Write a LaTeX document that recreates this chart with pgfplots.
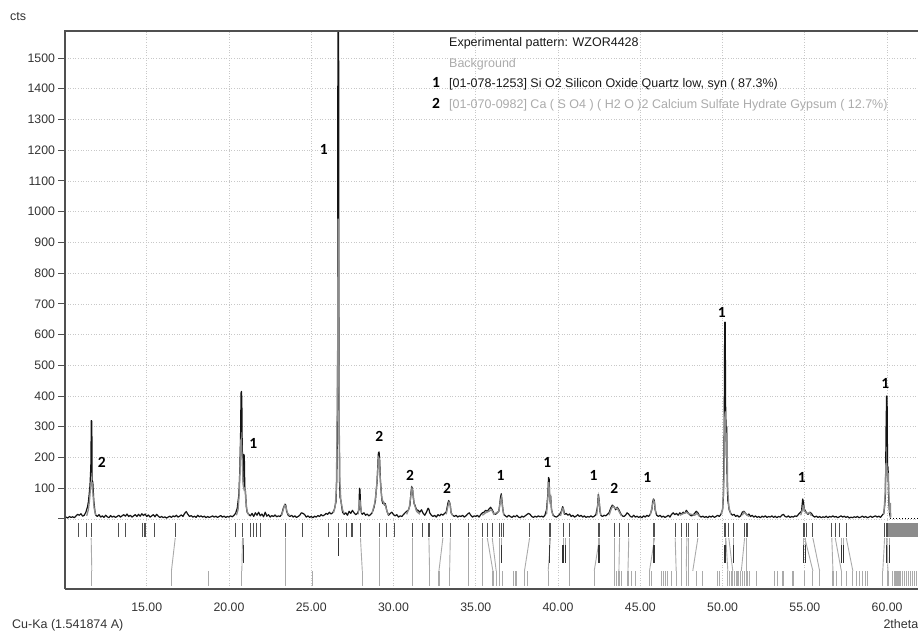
\documentclass[border=0pt]{standalone}
\usepackage{pgfplots}
\pgfplotsset{compat=1.18}
\usepackage{pgfplotstable}
\usepackage{fontspec}
\setmainfont{Liberation Sans}
\newfontfamily\calfont{Carlito}
\definecolor{framec}{HTML}{505050}
\definecolor{gridc}{HTML}{C8C8C8}
\definecolor{prof}{HTML}{8C8C8C}
\definecolor{lgrey}{HTML}{ABABAB}
\definecolor{stk}{HTML}{AAAAAA}
\definecolor{stkd}{HTML}{505050}
\definecolor{tlab}{HTML}{333333}

% connecting lines (row 1 -> row 3): x y u v
\pgfplotstableread{
x y u v
11.62 -62 0.04 -107
16.73 -62 -0.23 -107
20.82 -62 -0.04 -107
23.43 -62 0 -107
27.99 -62 0.11 -107
29.15 -62 0 -107
31.17 -62 0 -107
32.15 -62 0.04 -107
33.00 -62 -0.24 -107
33.45 -62 -0.04 -107
34.58 -62 0 -107
35.39 -62 0 -107
35.70 -62 0.34 -107
36.00 -62 0.24 -107
36.44 -62 0 -107
38.27 -62 -0.31 -107
39.54 -62 -0.14 -107
40.70 -62 0 -107
42.52 -62 -0.32 -107
43.43 -62 0 -107
43.74 -62 -0.04 -107
44.30 -62 -0.05 -107
45.87 -62 -0.31 -107
47.12 -62 0.06 -107
47.49 -62 0 -107
47.83 -62 -0.04 -107
47.95 -62 0 -107
48.50 -62 -0.31 -107
50.20 -62 0.12 -107
50.38 -62 0.24 -107
51.34 -62 -0.20 -107
51.48 -62 0 -107
55.00 -62 0.49 -107
55.49 -62 0.41 -107
56.64 -62 0.07 -107
56.85 -62 0.37 -107
57.52 -62 0.40 -107
59.85 -62 -0.11 -107
60.00 -62 0.05 -107
}\connect

\begin{document}
\begin{tikzpicture}
\path[use as bounding box] (-65pt,-43pt) rectangle (853pt,589pt);
\begin{axis}[name=ax, at={(0pt,0pt)}, anchor=south west,
  scale only axis, width=853pt, height=558pt,
  xmin=10.03, xmax=61.88, ymin=-228, ymax=1588,
  axis line style={draw=none},
  xtick={15,20,25,30,35,40,45,50,55,60},
  xticklabels={15.00,20.00,25.00,30.00,35.00,40.00,45.00,50.00,55.00,60.00},
  ytick={0,100,200,300,400,500,600,700,800,900,1000,1100,1200,1300,1400,1500},
  yticklabels={{},100,200,300,400,500,600,700,800,900,1000,1100,1200,1300,1400,1500},
  grid=major,
  major grid style={gridc, dash pattern=on 1pt off 1.6pt, line width=0.7pt},
  tick align=outside, major tick length=6.5pt,
  tick style={framec, line width=1pt},
  every major x tick/.append style={draw=none},
  ticklabel style={font=\fontsize{12.3}{14}\selectfont, text=tlab},
  xticklabel style={yshift=-3.5pt},
]
% experimental pattern
\addplot[black!92, line width=1.2pt, line join=round] coordinates {
(10.0,4) (10.1,6) (10.2,3) (10.3,8) (10.4,5) (10.5,7) (10.6,4) (10.7,10) (10.8,15) (10.9,12)
(11.0,17) (11.1,9) (11.2,12) (11.3,22) (11.4,40) (11.45,55) (11.5,80) (11.55,110) (11.6,170)
(11.63,320) (11.66,318) (11.68,125) (11.72,120) (11.78,60) (11.85,25) (11.9,12) (12.0,8)
(12.1,14) (12.2,6) (12.3,10) (12.4,5) (12.5,12) (12.6,7) (12.7,4) (12.8,11) (12.9,6) (13.0,9)
(13.1,5) (13.2,8) (13.3,12) (13.4,6) (13.5,10) (13.6,14) (13.7,9) (13.8,16) (13.9,8) (14.0,12)
(14.1,6) (14.2,10) (14.3,14) (14.4,8) (14.5,15) (14.6,9) (14.7,17) (14.8,11) (14.9,16) (15.0,8)
(15.1,13) (15.2,6) (15.3,10) (15.4,14) (15.5,7) (15.6,15) (15.7,9) (15.8,5) (15.9,8) (16.0,4)
(16.1,7) (16.2,3) (16.3,6) (16.4,9) (16.5,5) (16.6,10) (16.7,7) (16.8,12) (16.9,6) (17.0,9)
(17.1,13) (17.2,8) (17.3,18) (17.4,24) (17.5,15) (17.6,8) (17.7,11) (17.8,6) (17.9,9) (18.0,5)
(18.1,12) (18.2,7) (18.3,10) (18.4,6) (18.5,9) (18.6,4) (18.7,8) (18.8,5) (18.9,7) (19.0,10)
(19.1,6) (19.2,9) (19.3,5) (19.4,8) (19.5,11) (19.6,6) (19.7,9) (19.8,5) (19.9,8) (20.0,6)
(20.1,10) (20.2,7) (20.3,12) (20.4,18) (20.5,35) (20.6,80) (20.65,150) (20.7,260) (20.73,410)
(20.76,415) (20.78,380) (20.8,250) (20.83,180) (20.86,120) (20.9,210) (20.93,205) (20.96,100)
(21.0,90) (21.05,40) (21.1,22) (21.2,15) (21.3,10) (21.4,18) (21.5,8) (21.6,20) (21.7,12)
(21.8,22) (21.9,10) (22.0,16) (22.1,7) (22.2,22) (22.3,9) (22.4,14) (22.5,6) (22.6,11) (22.7,8)
(22.8,13) (22.9,7) (23.0,10) (23.1,8) (23.2,15) (23.3,35) (23.4,48) (23.45,45) (23.5,25)
(23.6,12) (23.7,8) (23.8,12) (23.9,6) (24.0,10) (24.1,5) (24.2,8) (24.3,12) (24.4,20) (24.5,18)
(24.6,14) (24.7,6) (24.8,10) (24.9,5) (25.0,8) (25.1,4) (25.2,9) (25.3,6) (25.4,11) (25.5,8)
(25.6,14) (25.7,10) (25.8,13) (25.9,18) (26.0,15) (26.1,22) (26.2,16) (26.3,20) (26.4,30)
(26.5,55) (26.55,130) (26.58,260) (26.6,500) (26.62,1700) (26.66,1700) (26.68,600) (26.7,300)
(26.72,120) (26.75,70) (26.8,60) (26.85,40) (26.9,22) (27.0,15) (27.1,20) (27.2,12) (27.3,25)
(27.4,18) (27.5,28) (27.6,20) (27.7,14) (27.8,18) (27.9,30) (27.93,100) (27.96,95) (28.0,40)
(28.05,20) (28.1,15) (28.2,20) (28.3,12) (28.4,16) (28.5,10) (28.6,14) (28.7,20) (28.8,35)
(28.9,60) (28.95,95) (29.0,120) (29.05,180) (29.08,215) (29.12,218) (29.15,200) (29.2,130)
(29.25,90) (29.3,60) (29.35,50) (29.4,55) (29.45,45) (29.5,50) (29.55,38) (29.6,25) (29.7,12)
(29.8,18) (29.9,22) (30.0,14) (30.1,10) (30.2,14) (30.3,6) (30.4,10) (30.5,8) (30.6,14)
(30.7,20) (30.8,25) (30.9,28) (31.0,45) (31.05,80) (31.1,105) (31.15,100) (31.2,70) (31.25,50)
(31.3,45) (31.4,30) (31.5,28) (31.6,22) (31.7,30) (31.8,18) (31.9,12) (32.0,22) (32.1,35)
(32.15,32) (32.2,20) (32.3,12) (32.4,8) (32.5,12) (32.6,6) (32.7,14) (32.8,10) (32.9,16)
(33.0,12) (33.1,18) (33.2,22) (33.3,50) (33.35,60) (33.4,55) (33.45,45) (33.5,20) (33.6,12)
(33.7,8) (33.8,12) (33.9,6) (34.0,10) (34.1,8) (34.2,12) (34.3,6) (34.4,10) (34.5,16) (34.6,20)
(34.7,12) (34.8,6) (34.9,10) (35.0,8) (35.1,12) (35.2,6) (35.3,14) (35.4,20) (35.5,22) (35.6,28)
(35.7,25) (35.8,32) (35.9,38) (36.0,30) (36.1,18) (36.2,15) (36.3,20) (36.4,25) (36.45,45)
(36.5,70) (36.55,82) (36.6,55) (36.65,30) (36.7,15) (36.8,10) (36.9,6) (37.0,12) (37.1,8)
(37.2,5) (37.3,10) (37.4,7) (37.5,12) (37.6,6) (37.7,4) (37.8,9) (37.9,6) (38.0,10) (38.1,14)
(38.2,18) (38.3,15) (38.4,8) (38.5,5) (38.6,9) (38.7,6) (38.8,10) (38.9,7) (39.0,9) (39.1,6)
(39.2,12) (39.3,30) (39.38,80) (39.42,135) (39.46,130) (39.5,60) (39.55,75) (39.6,30) (39.7,12)
(39.8,8) (39.9,6) (40.0,10) (40.1,15) (40.2,25) (40.28,40) (40.32,35) (40.4,15) (40.5,18)
(40.6,12) (40.7,16) (40.8,8) (40.9,12) (41.0,6) (41.1,9) (41.2,14) (41.3,8) (41.4,12) (41.5,6)
(41.6,10) (41.7,5) (41.8,8) (41.9,6) (42.0,10) (42.1,6) (42.2,9) (42.3,14) (42.4,40) (42.45,80)
(42.5,60) (42.55,25) (42.6,12) (42.7,8) (42.8,12) (42.9,10) (43.0,15) (43.1,20) (43.2,35)
(43.3,45) (43.4,40) (43.5,30) (43.6,38) (43.7,30) (43.8,18) (43.9,10) (44.0,8) (44.1,12)
(44.2,20) (44.3,15) (44.4,8) (44.5,6) (44.6,12) (44.7,6) (44.8,9) (44.9,5) (45.0,8) (45.1,4)
(45.2,10) (45.3,6) (45.4,12) (45.5,8) (45.6,15) (45.7,30) (45.75,55) (45.8,65) (45.85,60)
(45.9,30) (46.0,12) (46.1,8) (46.2,12) (46.3,6) (46.4,9) (46.5,5) (46.6,8) (46.7,12) (46.8,6)
(46.9,15) (47.0,20) (47.1,14) (47.2,18) (47.3,12) (47.4,20) (47.5,15) (47.6,22) (47.7,18)
(47.8,28) (47.9,20) (48.0,14) (48.1,10) (48.2,12) (48.3,18) (48.4,25) (48.5,20) (48.6,10)
(48.7,6) (48.8,9) (48.9,5) (49.0,8) (49.1,4) (49.2,9) (49.3,6) (49.4,10) (49.5,5) (49.6,8)
(49.7,12) (49.8,8) (49.9,15) (50.0,30) (50.05,70) (50.1,300) (50.13,640) (50.16,640) (50.19,340)
(50.22,300) (50.25,300) (50.28,120) (50.32,60) (50.35,50) (50.4,30) (50.5,18) (50.6,12)
(50.7,15) (50.8,8) (50.9,12) (51.0,6) (51.1,10) (51.2,22) (51.3,25) (51.4,18) (51.5,12)
(51.6,16) (51.7,8) (51.8,12) (51.9,6) (52.0,10) (52.1,5) (52.2,8) (52.3,4) (52.4,9) (52.5,6)
(52.6,10) (52.7,5) (52.8,8) (52.9,6) (53.0,10) (53.1,5) (53.2,9) (53.3,4) (53.4,8) (53.5,6)
(53.6,12) (53.7,15) (53.8,8) (53.9,6) (54.0,10) (54.1,5) (54.2,8) (54.3,6) (54.4,10) (54.5,8)
(54.6,14) (54.7,20) (54.8,25) (54.87,65) (54.92,55) (54.97,25) (55.0,30) (55.1,20) (55.2,15)
(55.3,22) (55.4,18) (55.5,10) (55.6,6) (55.7,9) (55.8,5) (55.9,8) (56.0,4) (56.1,7) (56.2,5)
(56.3,9) (56.4,4) (56.5,8) (56.6,6) (56.7,10) (56.8,6) (56.9,8) (57.0,4) (57.1,7) (57.2,10)
(57.3,6) (57.4,9) (57.5,5) (57.6,8) (57.7,3) (57.8,6) (57.9,4) (58.0,7) (58.1,5) (58.2,8)
(58.3,4) (58.4,6) (58.5,9) (58.6,5) (58.7,8) (58.8,4) (58.9,6) (59.0,9) (59.1,5) (59.2,8)
(59.3,10) (59.4,6) (59.5,9) (59.6,5) (59.7,12) (59.8,18) (59.85,40) (59.9,80) (59.94,300)
(59.97,400) (60.0,400) (60.03,160) (60.06,170) (60.1,60) (60.15,20) (60.2,5)
};
\addplot[black, line width=1pt, dotted] coordinates {(60.2,3) (61.9,3)};
% calculated phase profiles (grey)
\addplot[prof, line width=1.3pt, unbounded coords=jump] coordinates {
(11.35,10) (11.45,30) (11.52,60) (11.58,100) (11.63,120) (11.68,118) (11.73,80) (11.8,35) (11.9,12) (11.9,nan)
(20.45,12) (20.55,30) (20.62,80) (20.67,160) (20.71,255) (20.75,260) (20.8,190) (20.86,110) (20.92,95) (20.97,100) (21.02,60) (21.1,25) (21.2,12) (21.2,nan)
(23.2,12) (23.3,30) (23.38,45) (23.45,42) (23.55,20) (23.7,10) (23.7,nan)
(26.35,20) (26.45,40) (26.52,90) (26.56,260) (26.6,500) (26.63,975) (26.67,975) (26.7,300) (26.74,120) (26.8,60) (26.9,30) (27.0,18) (27.0,nan)
(27.85,15) (27.92,60) (27.96,60) (28.05,20) (28.05,nan)
(28.7,20) (28.85,50) (28.95,90) (29.03,150) (29.09,200) (29.14,195) (29.2,120) (29.28,70) (29.4,50) (29.5,45) (29.6,25) (29.7,12) (29.7,nan)
(30.8,15) (30.95,35) (31.05,75) (31.12,100) (31.18,90) (31.25,50) (31.4,25) (31.6,15) (31.6,nan)
(33.2,15) (33.3,40) (33.37,55) (33.43,50) (33.5,20) (33.6,10) (33.6,nan)
(35.4,12) (35.6,20) (35.8,25) (35.95,30) (36.1,15) (36.4,25) (36.5,60) (36.56,70) (36.62,40) (36.7,12) (36.7,nan)
(39.3,15) (39.38,70) (39.44,120) (39.5,60) (39.55,70) (39.62,25) (39.7,10) (39.7,nan)
(40.15,10) (40.25,30) (40.3,35) (40.38,15) (40.38,nan)
(42.35,12) (42.42,50) (42.47,70) (42.53,40) (42.6,12) (42.6,nan)
(43.1,12) (43.25,35) (43.35,42) (43.45,35) (43.6,35) (43.7,25) (43.85,10) (43.85,nan)
(45.6,12) (45.72,40) (45.8,60) (45.86,55) (45.95,15) (45.95,nan)
(47.4,12) (47.8,22) (47.9,18) (48.3,12) (48.45,18) (48.6,8) (48.6,nan)
(49.9,15) (50.0,30) (50.08,120) (50.12,320) (50.17,350) (50.22,200) (50.27,280) (50.31,100) (50.38,40) (50.5,15) (50.5,nan)
(51.2,12) (51.3,22) (51.45,15) (51.6,8) (51.6,nan)
(54.75,12) (54.85,30) (54.92,40) (55.0,25) (55.1,18) (55.3,20) (55.4,10) (55.4,nan)
(59.8,15) (59.88,80) (59.93,180) (59.98,180) (60.03,120) (60.08,150) (60.12,60) (60.15,20) (60.18,50) (60.2,50) (60.22,5)
};
% row 1: all peak positions
\addplot[stkd, line width=1.2pt, quiver={u=0,v=-47}] coordinates {
(10.83,-13) (11.32,-13) (11.62,-13) (13.30,-13) (13.71,-13) (14.76,-13) (14.84,-13) (14.92,-13)
(15.47,-13) (16.73,-13) (20.40,-13) (20.82,-13) (21.29,-13) (21.51,-13) (21.68,-13) (21.90,-13)
(23.43,-13) (24.47,-13) (26.07,-13) (26.66,-13) (27.12,-13) (27.47,-13) (27.99,-13) (29.15,-13)
(29.59,-13) (30.06,-13) (31.17,-13) (31.74,-13) (32.15,-13) (33.00,-13) (33.45,-13) (34.58,-13)
(35.39,-13) (35.70,-13) (36.00,-13) (36.44,-13) (36.56,-13) (36.69,-13) (38.27,-13) (39.47,-13)
(39.54,-13) (40.33,-13) (40.70,-13) (42.46,-13) (42.52,-13) (43.43,-13) (43.74,-13) (44.30,-13)
(45.80,-13) (45.87,-13) (47.12,-13) (47.49,-13) (47.83,-13) (47.95,-13) (48.50,-13) (50.15,-13)
(50.20,-13) (50.38,-13) (50.68,-13) (51.34,-13) (51.48,-13) (54.93,-13) (55.00,-13) (55.08,-13)
(55.49,-13) (56.64,-13) (56.85,-13) (57.11,-13) (57.52,-13) (59.85,-13) (60.00,-13)
};
\addplot[fill=prof, draw=none] coordinates {(60.05,-14) (61.9,-14) (61.9,-60) (60.05,-60)} -- cycle;
% connecting lines
\addplot[stk, line width=0.9pt, quiver={u=\thisrow{u},v=\thisrow{v}}] table[x=x,y=y] {\connect};
% quartz (row 2)
\addplot[stk, line width=0.9pt, quiver={u=0,v=-23}] coordinates {
(20.86,-62) (36.56,-62) (39.47,-62) (40.30,-62) (40.45,-62) (42.46,-62) (42.52,-62) (45.80,-62)
(50.15,-62) (50.68,-62) (54.93,-62) (55.05,-62) (57.22,-62) (57.35,-62) (59.97,-62) (60.15,-62)
};
\addplot[black!80, line width=1.3pt, quiver={u=0,v=-58}] coordinates {
(20.86,-85) (26.66,-62) (36.56,-85) (39.47,-85) (40.30,-85) (40.45,-85) (42.46,-85) (42.52,-85)
(45.80,-85) (45.87,-85) (50.15,-85) (50.68,-85) (54.93,-85) (55.05,-85) (57.22,-85) (57.35,-85)
(59.97,-85) (60.15,-85)
};
% gypsum (row 3)
\addplot[stk, line width=1.2pt, quiver={u=0,v=-49}] coordinates {
(11.66,-169) (16.50,-169) (18.76,-169) (20.78,-169) (23.43,-169) (25.06,-169) (28.10,-169)
(29.15,-169) (31.17,-169) (32.19,-169) (32.76,-169) (33.41,-169) (34.58,-169) (35.39,-169)
(36.04,-169) (36.24,-169) (36.44,-169) (36.64,-169) (37.30,-169) (37.45,-169) (37.96,-169)
(38.15,-169) (39.40,-169) (40.70,-169) (42.20,-169) (43.43,-169) (43.55,-169) (43.70,-169)
(43.85,-169) (44.25,-169) (44.45,-169) (44.70,-169) (45.56,-169) (45.70,-169) (46.27,-169)
(46.40,-169) (46.52,-169) (46.67,-169) (46.88,-169) (47.18,-169) (47.49,-169) (47.79,-169)
(47.95,-169) (48.40,-169) (48.80,-169) (49.71,-169) (49.82,-169) (50.32,-169) (50.42,-169)
(50.52,-169) (50.62,-169) (50.72,-169) (50.83,-169) (50.93,-169) (50.99,-169) (51.10,-169)
(51.20,-169) (51.34,-169) (51.48,-169) (51.64,-169) (52.05,-169) (53.16,-169) (53.36,-169)
(53.67,-169) (54.28,-169) (54.98,-169) (55.49,-169) (55.90,-169) (56.71,-169) (56.91,-169)
(57.22,-169) (57.52,-169) (57.92,-169) (58.13,-169) (58.33,-169) (58.53,-169) (58.70,-169)
(58.83,-169) (59.74,-169) (60.05,-169) (60.35,-169) (60.48,-169) (60.60,-169) (60.72,-169)
(60.84,-169) (60.96,-169) (61.08,-169) (61.20,-169) (61.32,-169) (61.44,-169) (61.56,-169)
(61.68,-169) (61.80,-169)
};
% phase labels
\tikzset{lab/.style={font=\calfont\bfseries\fontsize{15.5}{17}\selectfont, inner sep=0pt}}
\node[lab] at (axis cs:12.27,185) {2};
\node[lab] at (axis cs:21.47,245) {1};
\node[lab] at (axis cs:25.76,1203) {1};
\node[lab] at (axis cs:29.13,268) {2};
\node[lab] at (axis cs:31.0,141) {2};
\node[lab] at (axis cs:33.26,99) {2};
\node[lab] at (axis cs:36.5,141) {1};
\node[lab] at (axis cs:39.34,185) {1};
\node[lab] at (axis cs:42.16,141) {1};
\node[lab] at (axis cs:43.42,99) {2};
\node[lab] at (axis cs:45.42,136) {1};
\node[lab] at (axis cs:49.96,673) {1};
\node[lab] at (axis cs:54.82,136) {1};
\node[lab] at (axis cs:59.89,442) {1};
\end{axis}
% frame
\draw[framec, line width=1.5pt] (ax.south west) -- (ax.north west) -- (ax.north east);
\draw[framec, line width=1.2pt] (ax.south west) -- (ax.south east);
% texts
\tikzset{leg/.style={font=\fontsize{12.5}{14}\selectfont, inner sep=0pt, anchor=base west}}
\node[leg, text=black!90] at ([shift={(384pt,-16pt)}]ax.north west) {Experimental pattern: WZOR4428};
\node[leg, text=lgrey] at ([shift={(384pt,-36.5pt)}]ax.north west) {Background};
\node[leg, text=black!90] at ([shift={(384pt,-57pt)}]ax.north west) {[01-078-1253] Si O2 Silicon Oxide Quartz low, syn ( 87.3\%)};
\node[leg, text=lgrey] at ([shift={(384pt,-77.5pt)}]ax.north west) {[01-070-0982] Ca ( S O4 ) ( H2 O )2 Calcium Sulfate Hydrate Gypsum ( 12.7\%)};
\node[font=\calfont\bfseries\fontsize{15.5}{17}\selectfont, inner sep=0pt, anchor=base] at ([shift={(371pt,-57pt)}]ax.north west) {1};
\node[font=\calfont\bfseries\fontsize{15.5}{17}\selectfont, inner sep=0pt, anchor=base] at ([shift={(371pt,-77.5pt)}]ax.north west) {2};
\node[leg, text=tlab] at ([shift={(-55pt,10pt)}]ax.north west) {cts};
\node[leg, text=tlab] at ([shift={(-53pt,-39.3pt)}]ax.south west) {Cu-Ka (1.541874 A)};
\node[leg, text=tlab] at ([shift={(818.3pt,-39.3pt)}]ax.south west) {2theta};
\end{tikzpicture}
\end{document}
